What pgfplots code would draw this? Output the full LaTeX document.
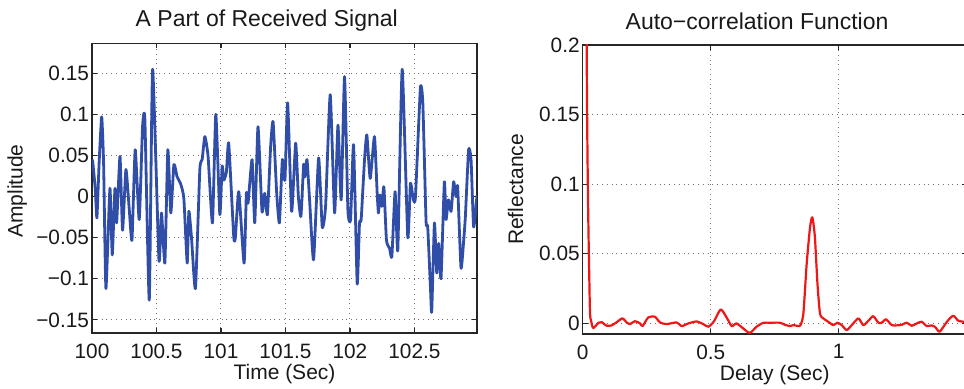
\documentclass[border=0pt]{standalone}
\usepackage{pgfplots}
\pgfplotsset{compat=1.18}
\usepackage{fontspec}
\setmainfont{Liberation Sans}
\definecolor{sigblue}{RGB}{48,78,168}
\definecolor{acred}{RGB}{238,22,22}
\begin{document}
\begin{tikzpicture}
\useasboundingbox (0,0) rectangle (482pt,194.5pt);
\pgfplotsset{
  mystyle/.style={
    scale only axis,
    anchor=south west,
    axis line style={line width=0.7pt, black!85},
    tick style={line width=0.6pt, black!85},
    major tick length=2.5pt,
    grid=major,
    grid style={dotted, line width=0.5pt, black!55},
    tick label style={font=\fontsize{10.4}{12}\selectfont, text=black!90},
    xticklabel style={yshift=-1.8pt},
    yticklabel style={xshift=2pt},
    label style={font=\fontsize{10.5}{12}\selectfont, text=black!90},
    title style={font=\fontsize{11.5}{13}\selectfont, text=black!90},
  }
}
\begin{axis}[mystyle, at={(46pt,28pt)}, width=192.5pt, height=144.85pt,
  xmin=100, xmax=102.985, ymin=-0.166, ymax=0.1865,
  xtick={100,100.5,101,101.5,102,102.5},
  xticklabels={100,100.5,101,101.5,102,102.5},
  ytick={-0.15,-0.1,-0.05,0,0.05,0.1,0.15},
  yticklabels={−0.15,−0.1,−0.05,0,0.05,0.1,0.15},
  title={A Part of Received Signal},
  title style={at={(axis description cs:0.454,1.08)}, anchor=center, yshift=-6pt},
  xlabel={Time (Sec)},
  xlabel style={at={(axis description cs:0.5,-0.142)}, anchor=center},
  ylabel={Amplitude},
  ylabel style={at={(axis description cs:-0.194,0.49)}, anchor=center}]
\addplot[sigblue, line width=1.4pt, line join=round, smooth, tension=0.3] coordinates {
(100.000,0.045) (100.006,0.042) (100.025,0.010) (100.038,-0.026) (100.055,0.040)
(100.075,0.097) (100.090,0.040) (100.108,-0.112) (100.139,0.010) (100.157,-0.071)
(100.178,0.010) (100.191,-0.032) (100.217,0.049) (100.237,-0.041) (100.263,0.033)
(100.289,-0.016) (100.310,-0.053) (100.335,0.057) (100.366,-0.028) (100.392,0.085)
(100.410,0.094) (100.444,-0.126) (100.470,0.155) (100.519,-0.077) (100.539,-0.020)
(100.565,-0.081) (100.588,0.057) (100.611,-0.020) (100.635,0.039) (100.660,0.024)
(100.686,0.016) (100.712,-0.002) (100.738,-0.081) (100.751,-0.018) (100.771,-0.049)
(100.802,-0.112) (100.836,0.033) (100.854,0.045) (100.875,0.073) (100.900,0.049)
(100.934,-0.032) (100.960,0.100) (100.991,-0.022) (101.009,0.037) (101.022,0.020)
(101.042,0.030) (101.060,0.065) (101.099,-0.049) (101.112,-0.049) (101.138,0.006)
(101.179,-0.081) (101.197,0.004) (101.210,-0.008) (101.241,0.045) (101.262,-0.032)
(101.287,0.085) (101.318,-0.018) (101.339,0.004) (101.360,-0.022) (101.385,0.061)
(101.404,0.091) (101.432,0.004) (101.453,-0.032) (101.476,0.045) (101.496,0.020)
(101.517,0.114) (101.548,-0.018) (101.579,0.065) (101.600,0.000) (101.620,-0.024)
(101.641,0.039) (101.651,0.024) (101.667,0.045) (101.687,-0.004) (101.718,-0.077)
(101.757,0.047) (101.785,-0.037) (101.811,-0.012) (101.847,0.124) (101.881,-0.020)
(101.907,0.087) (101.932,-0.004) (101.958,0.146) (101.984,-0.016) (102.005,-0.028)
(102.028,0.063) (102.056,-0.106) (102.074,-0.032) (102.087,-0.028) (102.113,0.045)
(102.131,0.075) (102.157,0.022) (102.190,0.073) (102.211,0.004) (102.221,-0.020)
(102.232,0.002) (102.247,-0.012) (102.263,0.012) (102.283,-0.053) (102.307,-0.063)
(102.325,-0.073) (102.350,0.006) (102.371,-0.065) (102.405,0.155) (102.448,-0.049)
(102.469,0.016) (102.492,-0.004) (102.508,0.000) (102.546,0.132) (102.565,0.114)
(102.590,-0.030) (102.603,-0.037) (102.624,-0.110) (102.634,-0.140) (102.655,-0.032)
(102.673,-0.093) (102.688,-0.057) (102.706,-0.100) (102.732,0.018) (102.745,-0.028)
(102.763,-0.004) (102.784,-0.018) (102.804,0.018) (102.822,0.000) (102.835,0.012)
(102.861,-0.087) (102.882,-0.053) (102.895,-0.024) (102.920,0.057) (102.939,0.045)
(102.959,-0.037) (102.985,0.002)
};
\end{axis}
\begin{axis}[mystyle, at={(291.35pt,27.5pt)}, width=192pt, height=144.5pt,
  xmin=0, xmax=1.5, ymin=-0.0076, ymax=0.2,
  xtick={0,0.5,1}, xticklabels={0,0.5,1},
  ytick={0,0.05,0.1,0.15,0.2}, yticklabels={0,0.05,0.1,0.15,0.2},
  title={Auto−correlation Function},
  title style={at={(axis description cs:0.454,1.083)}, anchor=center, yshift=-6pt},
  xlabel={Delay (Sec)},
  xlabel style={at={(axis description cs:0.5,-0.142)}, anchor=center},
  ylabel={Reflectance},
  ylabel style={at={(axis description cs:-0.175,0.5)}, anchor=center}]
\addplot[acred, line width=1.1pt, line join=round, smooth, tension=0.4] coordinates {
(0.000,1.0) (0.0155,0.2) (0.027,0.020) (0.033,0.002) (0.0415,-0.0033)
(0.061,0.0004) (0.074,0.0009) (0.094,-0.0017) (0.113,-0.0014) (0.133,0.0009)
(0.155,0.0036) (0.172,0.0007) (0.185,-0.0005) (0.204,0.0016) (0.224,0.0000)
(0.234,-0.0019) (0.256,0.0043) (0.282,0.0048) (0.302,0.0007) (0.328,-0.0005)
(0.367,0.0007) (0.387,-0.0019) (0.413,0.0000) (0.445,0.0014) (0.471,-0.0005)
(0.491,-0.0024) (0.513,0.0016) (0.539,0.0100) (0.562,0.0043) (0.582,-0.0019)
(0.601,0.0000) (0.627,-0.0036) (0.653,-0.0068) (0.679,-0.0024) (0.705,0.0004)
(0.732,0.0005) (0.771,0.0005) (0.790,-0.0010) (0.810,-0.0019) (0.823,-0.0012)
(0.842,-0.0019) (0.851,-0.0012) (0.862,0.0071) (0.875,0.043) (0.888,0.069)
(0.897,0.0762) (0.907,0.062) (0.917,0.0286) (0.927,0.0071) (0.940,0.0036)
(0.959,0.0012) (0.979,-0.0012) (0.995,0.0005) (1.012,-0.0012) (1.031,-0.0048)
(1.051,-0.0012) (1.077,0.0036) (1.096,-0.0012) (1.116,0.0019) (1.135,0.0052)
(1.155,0.0005) (1.168,0.0005) (1.185,0.0029) (1.207,-0.0012) (1.227,-0.0014)
(1.246,-0.0010) (1.266,0.0005) (1.285,-0.0017) (1.305,0.0000) (1.324,0.0012)
(1.344,-0.0019) (1.363,-0.0014) (1.376,-0.0024) (1.393,-0.0060) (1.409,-0.0024)
(1.428,0.0024) (1.448,0.0055) (1.467,0.0019) (1.489,0.0012) (1.500,0.0010)
};
\end{axis}
\end{tikzpicture}
\end{document}
